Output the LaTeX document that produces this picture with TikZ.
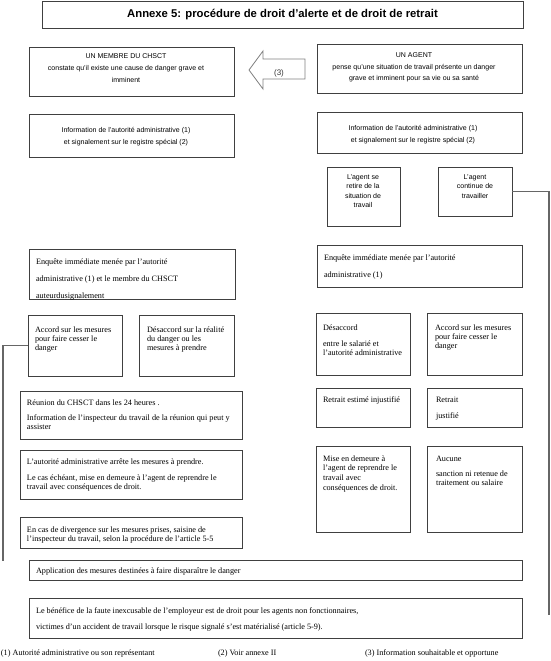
\documentclass[tikz,border=0pt]{standalone}
\usepackage{fontspec}
\setmainfont{Liberation Serif}
\setsansfont{Liberation Sans}
\definecolor{bord}{gray}{0.25}
\definecolor{conn}{gray}{0.4}
\definecolor{arr}{gray}{0.5}
\newcommand\mybox[5]{\node[bx, minimum width={#4-#2}, minimum height={#5-#3}] (#1) at ({(#2+#4)/2},{(#3+#5)/2}) {};}
\newcommand\sz[1]{\fontsize{8.2}{#1}\selectfont}
\begin{document}
\begin{tikzpicture}[x=1pt,y=-1pt,
  bx/.style={draw=bord, line width=0.8pt, inner sep=0pt, outer sep=0pt},
  tx/.style={anchor=base west, inner sep=0pt, outer sep=0pt},
  tc/.style={anchor=base, inner sep=0pt, outer sep=0pt},
  conn/.style={draw=conn, line width=1.1pt},
  serf/.style={font=\fontsize{8.2}{9}\selectfont}]
\useasboundingbox (0,0) rectangle (551,661);
\fill[white] (0,0) rectangle (551,661);
% boxes
\mybox{title}{42}{1}{523}{28}
\mybox{membre}{29}{47}{234}{96}
\mybox{agent}{317}{44}{522}{93}
\mybox{infoL}{29}{114}{234}{157}
\mybox{infoR}{317}{112}{522}{153}
\mybox{retire}{327}{167}{400}{226}
\mybox{agcont}{438}{167}{512}{216}
\mybox{enqL}{29}{249}{235}{299}
\mybox{enqR}{317}{245}{522}{287}
\mybox{accL}{28}{315}{122}{376}
\mybox{desL}{139}{315}{234}{376}
\mybox{desR}{316}{313}{410}{375}
\mybox{accR}{427}{313}{522}{375}
\mybox{reunion}{20}{391}{242}{439}
\mybox{injust}{316}{388}{410}{427}
\mybox{just}{427}{388}{522}{427}
\mybox{autorite}{20}{450}{242}{499}
\mybox{mise}{316}{446}{410}{532}
\mybox{aucune}{427}{446}{522}{532}
\mybox{encas}{20}{517}{242}{548}
\mybox{appli}{29}{560}{522}{580}
\mybox{benef}{29}{598}{522}{638}
% title
\node[inner sep=0pt, font=\sffamily\bfseries\fontsize{11.3}{13}\selectfont] (ttitle) at (title.center) {Annexe 5: procédure de droit d'alerte et de droit de retrait};
% arrow
\draw[draw=arr, line width=0.8pt, fill=white] (249,70) -- (263,51) -- (263,59) -- (305,59) -- (305,79) -- (263,79) -- (263,89) -- cycle;
\node[inner sep=0pt, font=\sffamily\fontsize{8}{9}\selectfont, text=black!80] (lbl3) at (279,73) {(3)};
% top texts
\node[tc] (tmembre) at (126,59) {\parbox[t]{200pt}{\centering\sffamily\fontsize{7}{12}\selectfont UN MEMBRE DU CHSCT\\constate qu'il existe une cause de danger grave et\\imminent}};
\node[tc] (tagent) at (414,58) {\parbox[t]{200pt}{\centering\sffamily\fontsize{7}{11.5}\selectfont UN AGENT\\pense qu'une situation de travail présente un danger\\grave et imminent pour sa vie ou sa santé}};
\node[tc] (tinfoL) at (126,132) {\parbox[t]{200pt}{\centering\sffamily\fontsize{7}{12}\selectfont Information de l'autorité administrative (1)\\et signalement sur le registre spécial (2)}};
\node[tc] (tinfoR) at (413,130) {\parbox[t]{200pt}{\centering\sffamily\fontsize{7}{12}\selectfont Information de l'autorité administrative (1)\\et signalement sur le registre spécial (2)}};
\node[tc] (tretire) at (363,179) {\parbox[t]{70pt}{\centering\sffamily\fontsize{7}{9.5}\selectfont L'agent se\\retire de la\\situation de\\travail}};
\node[tc] (tagcont) at (475,179) {\parbox[t]{70pt}{\centering\sffamily\fontsize{7}{9.5}\selectfont L'agent\\continue de\\travailler}};
% serif texts
\node[tx] (tenqL) at (36,264) {\parbox[t]{200pt}{\raggedright\sz{17}Enquête immédiate menée par l'autorité\\administrative (1) et le membre du CHSCT\\auteurdusignalement}};
\node[tx] (tenqR) at (324,260) {\parbox[t]{200pt}{\raggedright\sz{17}Enquête immédiate menée par l'autorité\\administrative (1)}};
\node[tx] (taccL) at (35,332) {\parbox[t]{90pt}{\raggedright\sz{9}Accord sur les mesures\\pour faire cesser le\\danger}};
\node[tx] (tdesL) at (147,332) {\parbox[t]{90pt}{\raggedright\sz{9}Désaccord sur la réalité\\du danger ou les\\mesures à prendre}};
\node[tx] (tdesR) at (323,330) {\parbox[t]{90pt}{\raggedright\sz{9}Désaccord\\[7pt]entre le salarié et\\l'autorité administrative}};
\node[tx] (taccR) at (435,330) {\parbox[t]{90pt}{\raggedright\sz{9}Accord sur les mesures\\pour faire cesser le\\danger}};
\node[tx] (treunion) at (27,405) {\parbox[t]{230pt}{\raggedright\sz{8.8}Réunion du CHSCT dans les 24 heures .\\[7pt]Information de l'inspecteur du travail de la réunion qui peut y\\assister}};
\node[tx] (tinjust) at (323,402) {\parbox[t]{90pt}{\raggedright\sz{9}Retrait estimé injustifié}};
\node[tx] (tjust) at (436,402) {\parbox[t]{90pt}{\raggedright\sz{16}Retrait\\justifié}};
\node[tx] (tautorite) at (27,464) {\parbox[t]{230pt}{\raggedright\sz{9}L'autorité administrative arrête les mesures à prendre.\\[7pt]Le cas échéant, mise en demeure à l'agent de reprendre le\\travail avec conséquences de droit.}};
\node[tx] (tmise) at (323,461) {\parbox[t]{90pt}{\raggedright\sz{9.8}Mise en demeure à\\l'agent de reprendre le\\travail avec\\conséquences de droit.}};
\node[tx] (taucune) at (436,461) {\parbox[t]{90pt}{\raggedright\sz{9.4}Aucune\\[6pt]sanction ni retenue de\\traitement ou salaire}};
\node[tx] (tencas) at (27,532) {\parbox[t]{230pt}{\raggedright\sz{9.2}En cas de divergence sur les mesures prises, saisine de\\l'inspecteur du travail, selon la procédure de l'article 5-5}};
\node[tx] (tappli) at (36,573) {\sz{9}Application des mesures destinées à faire disparaître le danger};
\node[tx] (tbenef) at (36,613) {\parbox[t]{480pt}{\raggedright\sz{16}Le bénéfice de la faute inexcusable de l'employeur est de droit pour les agents non fonctionnaires,\\victimes d'un accident de travail lorsque le risque signalé s'est matérialisé (article 5-9).}};
% footnotes
\node[tx, serf] (fn1) at (1,655) {(1) Autorité administrative ou son représentant};
\node[tx, serf] (fn2) at (218,655) {(2) Voir annexe II};
\node[tx, serf] (fn3) at (365,655) {(3) Information souhaitable et opportune};
% connectors
\coordinate (lend) at (3,561);
\coordinate (rend) at (549,615);
\draw[conn] (accL.west) -| (lend);
\draw[conn] (agcont.east) -| (rend);
\end{tikzpicture}
\end{document}
